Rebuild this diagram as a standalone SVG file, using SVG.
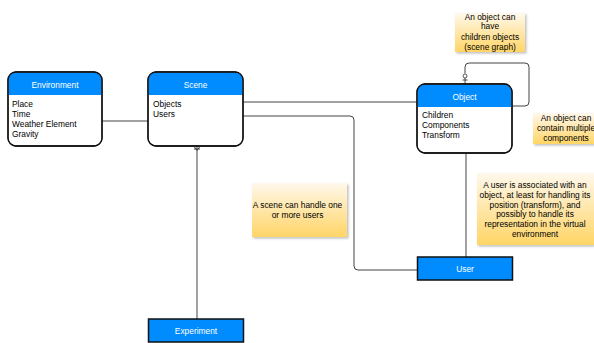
<svg xmlns="http://www.w3.org/2000/svg" width="594" height="343" viewBox="0 0 594 343">
<defs>
<linearGradient id="noteGrad" x1="0" y1="0" x2="0" y2="1">
<stop offset="0" stop-color="#fff8ec"/>
<stop offset="1" stop-color="#ffd566"/>
</linearGradient>
<filter id="shadow" x="-10%" y="-10%" width="130%" height="130%">
<feDropShadow dx="1.5" dy="1.5" stdDeviation="1" flood-color="#000" flood-opacity="0.25"/>
</filter>
</defs>
<style>
text{font-family:"Liberation Sans",Arial,Helvetica,sans-serif;font-size:8.4px;fill:#000}
.hdr{fill:#fff;text-anchor:middle}
.mid{text-anchor:middle}
.body{fill:#fff;stroke:#111;stroke-width:1.3}
.head{fill:#008cff}
.box{fill:#008cff;stroke:#111;stroke-width:1.5}
.note{fill:url(#noteGrad);filter:url(#shadow)}
.conn{fill:none;stroke:#444;stroke-width:1}
</style>
<rect width="594" height="343" fill="#fff"/>
<g id="connectors">
<path class="conn" d="M102 121 H148"/>
<path class="conn" d="M243 102 H417"/>
<path class="conn" d="M243 116 H350 Q354 116 354 120 V266 Q354 270 358 270 H417"/>
<path class="conn" d="M197 146 V319"/>
<path class="conn" d="M194 149 H200 M194.5 147 L197 150.5 L199.5 147" stroke-width="0.7"/>
<path class="conn" d="M466 154 V257" stroke="#888"/>
<path class="conn" d="M512 106 H525 Q529 106 529 102 V67 Q529 63 525 63 H469 Q465 63 465 67 V73.5 M465 78 V83"/>
<circle cx="465" cy="76" r="2" fill="#fff" stroke="#444" stroke-width="0.9"/>
<path class="conn" d="M462.5 80 H467.5" stroke-width="0.9"/>
</g>
<g id="environment">
<rect class="body" x="8" y="72" width="94" height="74" rx="8"/>
<path class="head" d="M8.7 95 V80 Q8.7 72.7 16 72.7 H94 Q101.3 72.7 101.3 80 V95 Z"/>
<rect x="8" y="72" width="94" height="74" rx="8" fill="none" stroke="#111" stroke-width="1.3"/>
<text class="hdr" x="55" y="88">Environment</text>
<text x="12" y="107">Place</text>
<text x="12" y="117">Time</text>
<text x="12" y="127">Weather Element</text>
<text x="12" y="137">Gravity</text>
</g>
<g id="scene">
<rect class="body" x="148" y="72" width="95" height="74" rx="8"/>
<path class="head" d="M148.7 95 V80 Q148.7 72.7 156 72.7 H235 Q242.3 72.7 242.3 80 V95 Z"/>
<rect x="148" y="72" width="95" height="74" rx="8" fill="none" stroke="#111" stroke-width="1.3"/>
<text class="hdr" x="195.5" y="88">Scene</text>
<text x="153" y="107">Objects</text>
<text x="153" y="117">Users</text>
</g>
<g id="object">
<rect class="body" x="417" y="84" width="95" height="69" rx="8"/>
<path class="head" d="M417.7 107 V92 Q417.7 84.7 425 84.7 H504 Q511.3 84.7 511.3 92 V107 Z"/>
<rect x="417" y="84" width="95" height="69" rx="8" fill="none" stroke="#111" stroke-width="1.3"/>
<text class="hdr" x="464.5" y="100">Object</text>
<text x="422" y="118">Children</text>
<text x="422" y="128">Components</text>
<text x="422" y="138">Transform</text>
</g>
<g id="user">
<rect class="box" x="417.5" y="257" width="95" height="23"/>
<text class="hdr" x="465" y="272">User</text>
</g>
<g id="experiment">
<rect class="box" x="148.5" y="319" width="95" height="23"/>
<text class="hdr" x="196" y="334">Experiment</text>
</g>
<g id="note-children">
<rect class="note" x="455" y="13" width="70" height="39"/>
<text class="mid" x="490" y="20">An object can</text>
<text class="mid" x="490" y="29">have</text>
<text class="mid" x="490" y="39.5">children objects</text>
<text class="mid" x="490" y="49.5">(scene graph)</text>
</g>
<g id="note-components">
<rect class="note" x="533" y="113" width="66" height="31"/>
<text class="mid" x="566" y="121">An object can</text>
<text class="mid" x="566" y="131">contain multiple</text>
<text class="mid" x="566" y="140.5">components</text>
</g>
<g id="note-users">
<rect class="note" x="252" y="183" width="95" height="54"/>
<text class="mid" x="297.5" y="208">A scene can handle one</text>
<text class="mid" x="297.5" y="217.5">or more users</text>
</g>
<g id="note-user-object">
<rect class="note" x="477" y="173" width="117" height="72"/>
<text class="mid" x="535" y="188">A user is associated with an</text>
<text class="mid" x="535" y="198">object, at least for handling its</text>
<text class="mid" x="535" y="207.5">position (transform), and</text>
<text class="mid" x="535" y="217">possibly to handle its</text>
<text class="mid" x="535" y="227">representation in the virtual</text>
<text class="mid" x="535" y="236.5">environment</text>
</g>
</svg>
